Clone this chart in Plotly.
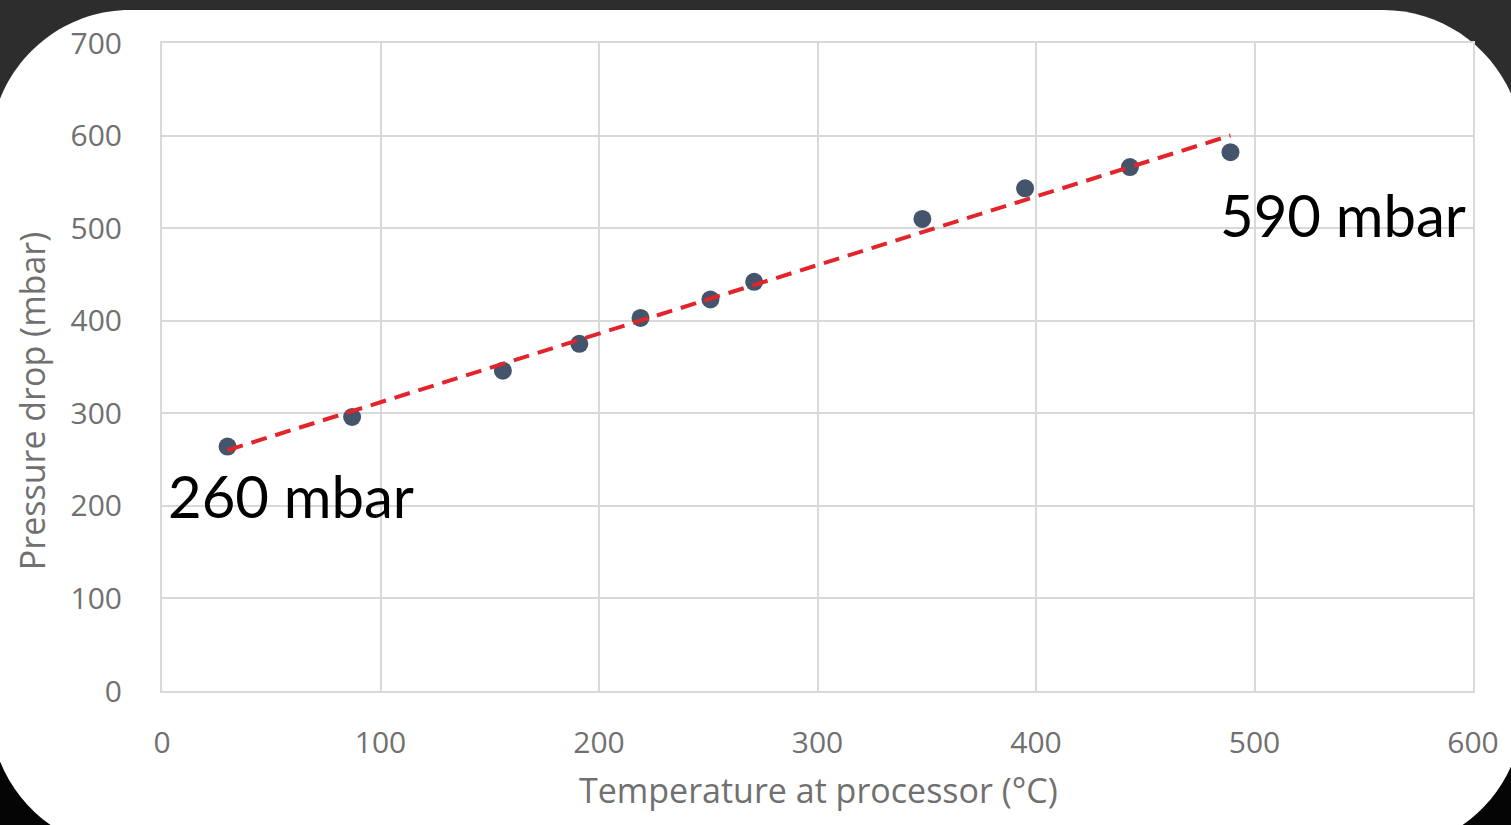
import numpy as np
import plotly.graph_objects as go

# ---- data ----
temperature_c = [30, 87, 156, 191, 219, 251, 271, 348, 395, 443, 489]
pressure_mbar = [264, 296, 346, 375, 403, 423, 442, 510, 543, 566, 582]
x_ticks = [0, 100, 200, 300, 400, 500, 600]
y_ticks = [0, 100, 200, 300, 400, 500, 600, 700]
label_low = "260 mbar"
label_high = "590 mbar"
x_title = "Temperature at processor (°C)"
y_title = "Pressure drop (mbar)"

W, H = 1511, 825
L, R, T, B = 162, 1475, 43, 691

def px(p):
    return (p - L) / (R - L)

def py(p):
    return (B - p) / (B - T)

# linear trend from the data
slope, intercept = np.polyfit(temperature_c, pressure_mbar, 1)
tx = [min(temperature_c), max(temperature_c)]
ty = [slope * v + intercept for v in tx]

fig = go.Figure()
fig.add_trace(go.Scatter(
    x=temperature_c, y=pressure_mbar, mode="markers",
    marker=dict(color="#44546a", size=18, line=dict(width=0)),
    showlegend=False, cliponaxis=False))
fig.add_trace(go.Scatter(
    x=tx, y=ty, mode="lines",
    line=dict(color="#e3242b", width=4, dash="16px,9px"),
    showlegend=False))

grid = "#d9d9d9"
tickfont = dict(family="Open Sans", size=30, color="#707070")
fig.update_xaxes(range=[0, 600], tickvals=x_ticks, showgrid=True, gridcolor=grid, gridwidth=1.5,
                 showline=True, mirror=True, linecolor=grid, linewidth=2, zeroline=False,
                 tickfont=tickfont, ticks="", ticklabelstandoff=24)
fig.update_yaxes(range=[0, 700], tickvals=y_ticks, showgrid=True, gridcolor=grid, gridwidth=1.5,
                 showline=True, mirror=True, linecolor=grid, linewidth=2, zeroline=False,
                 tickfont=tickfont, ticks="", ticklabelstandoff=32)

# background card with rounded corners
x0, x1, y0, y1 = -10, 1525, 10, 850
r = 140
k = 0.55 * r
path = (f"M {px(x0+r)},{py(y0)} L {px(x1-r)},{py(y0)} "
        f"C {px(x1-r+k)},{py(y0)} {px(x1)},{py(y0+r-k)} {px(x1)},{py(y0+r)} "
        f"L {px(x1)},{py(y1-r)} "
        f"C {px(x1)},{py(y1-r+k)} {px(x1-r+k)},{py(y1)} {px(x1-r)},{py(y1)} "
        f"L {px(x0+r)},{py(y1)} "
        f"C {px(x0+r-k)},{py(y1)} {px(x0)},{py(y1-r+k)} {px(x0)},{py(y1-r)} "
        f"L {px(x0)},{py(y0+r)} "
        f"C {px(x0)},{py(y0+r-k)} {px(x0+r-k)},{py(y0)} {px(x0+r)},{py(y0)} Z")
fig.add_shape(type="rect", xref="paper", yref="paper", x0=px(-20), x1=px(1530), y0=py(850), y1=py(450),
              fillcolor="#050505", line=dict(width=0), layer="below")
fig.add_shape(type="path", xref="paper", yref="paper", path=path,
              fillcolor="white", line=dict(width=0), layer="below")

fig.add_annotation(x=px(820), y=py(790), xref="paper", yref="paper", text=x_title,
                   xanchor="center", yanchor="middle",
                   showarrow=False, font=dict(family="Open Sans", size=34, color="#707070"))
fig.add_annotation(x=px(32), y=py(401), xref="paper", yref="paper", text=y_title, textangle=-90,
                   xanchor="center", yanchor="middle",
                   showarrow=False, font=dict(family="Open Sans", size=34, color="#707070"))
fig.add_annotation(x=px(166), y=py(495), xref="paper", yref="paper", text=label_low,
                   xanchor="left", yanchor="middle", showarrow=False,
                   font=dict(family="Lato", size=58, color="black"))
fig.add_annotation(x=px(1470), y=py(215), xref="paper", yref="paper", text=label_high,
                   xanchor="right", yanchor="middle", showarrow=False,
                   font=dict(family="Lato", size=58, color="black"))

fig.update_layout(width=W, height=H, margin=dict(l=L, r=W - R, t=T, b=H - B),
                  paper_bgcolor="#2d2d2d", plot_bgcolor="white")
fig.write_html("out.html", config={"displayModeBar": False},
               post_script="document.body.style.margin='0';document.body.style.overflow='hidden';")
